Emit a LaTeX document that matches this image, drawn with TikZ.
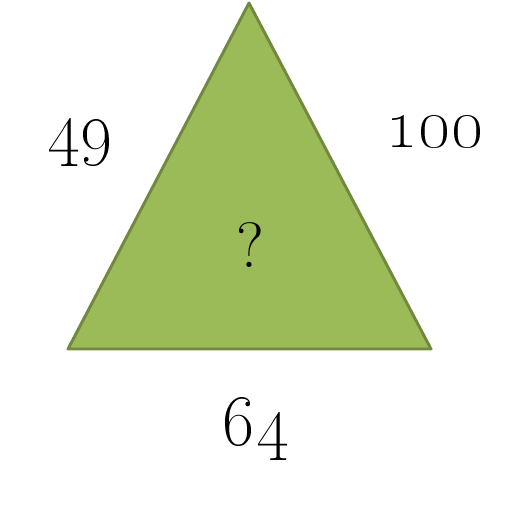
\documentclass[tikz,border=0pt]{standalone}
\usepackage{graphicx}
\definecolor{olivefill}{HTML}{9BBB59}
\definecolor{olivedraw}{HTML}{71893F}
\newcommand{\bignum}[1]{\scalebox{1.55}{\oldstylenums{#1}}}
\tikzset{
  sidelabel/.style={anchor=base,font=\fontsize{48}{54}\selectfont},
}
\begin{document}
\begin{tikzpicture}[x=0.75pt,y=-0.75pt]
  \useasboundingbox (0,0) rectangle (532,508);
  \coordinate (L) at (68,349);
  \coordinate (R) at (431,349);
  \coordinate (T) at (249,3);
  \draw[olivedraw,fill=olivefill,line width=2.2pt,line join=round] (L) -- (R) -- (T) -- cycle;
  \node[sidelabel] (left) at (81,151) {\bignum{49}};
  \node[sidelabel] (right) at (435,147) {\bignum{100}};
  \node[sidelabel] (bottom) at (256,445) {\bignum{64}};
  \node[sidelabel] (mid) at (250,267) {?};
\end{tikzpicture}
\end{document}
